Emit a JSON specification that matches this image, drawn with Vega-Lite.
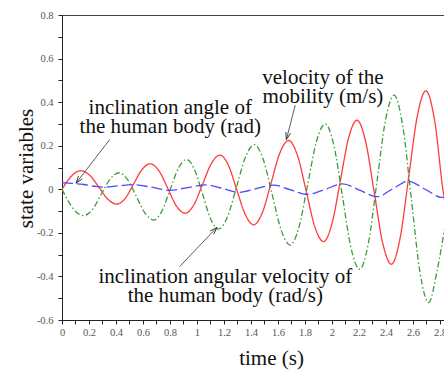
{
  "$schema": "https://vega.github.io/schema/vega-lite/v6.json",
  "width": 382,
  "height": 305,
  "autosize": {"type": "none"},
  "padding": {"left": 62, "top": 15, "right": 0, "bottom": 50},
  "background": "white",
  "config": {
    "view": {"stroke": "#444", "strokeWidth": 1},
    "axis": {
      "grid": false,
      "domainColor": "#222",
      "tickColor": "#222",
      "tickSize": 4,
      "labelFont": "Liberation Serif",
      "labelFontSize": 10.5,
      "labelColor": "#555",
      "labelFlush": false,
      "labelOverlap": false,
      "labelBound": false,
      "titleFont": "Liberation Serif",
      "titleFontSize": 21,
      "titleFontWeight": "normal",
      "titleColor": "#111"
    }
  },
  "datasets": {
    "curves": [
      {"s": "velocity", "t": 0.000, "y": 0.000},
      {"s": "velocity", "t": 0.047, "y": 0.043},
      {"s": "velocity", "t": 0.093, "y": 0.074},
      {"s": "velocity", "t": 0.140, "y": 0.085},
      {"s": "velocity", "t": 0.207, "y": 0.063},
      {"s": "velocity", "t": 0.274, "y": 0.009},
      {"s": "velocity", "t": 0.340, "y": -0.046},
      {"s": "velocity", "t": 0.407, "y": -0.068},
      {"s": "velocity", "t": 0.469, "y": -0.041},
      {"s": "velocity", "t": 0.531, "y": 0.025},
      {"s": "velocity", "t": 0.592, "y": 0.090},
      {"s": "velocity", "t": 0.654, "y": 0.117},
      {"s": "velocity", "t": 0.719, "y": 0.084},
      {"s": "velocity", "t": 0.784, "y": 0.004},
      {"s": "velocity", "t": 0.848, "y": -0.077},
      {"s": "velocity", "t": 0.913, "y": -0.110},
      {"s": "velocity", "t": 0.977, "y": -0.071},
      {"s": "velocity", "t": 1.042, "y": 0.024},
      {"s": "velocity", "t": 1.106, "y": 0.118},
      {"s": "velocity", "t": 1.170, "y": 0.157},
      {"s": "velocity", "t": 1.233, "y": 0.110},
      {"s": "velocity", "t": 1.295, "y": -0.003},
      {"s": "velocity", "t": 1.358, "y": -0.116},
      {"s": "velocity", "t": 1.420, "y": -0.163},
      {"s": "velocity", "t": 1.485, "y": -0.106},
      {"s": "velocity", "t": 1.550, "y": 0.031},
      {"s": "velocity", "t": 1.614, "y": 0.167},
      {"s": "velocity", "t": 1.679, "y": 0.224},
      {"s": "velocity", "t": 1.744, "y": 0.156},
      {"s": "velocity", "t": 1.809, "y": -0.008},
      {"s": "velocity", "t": 1.873, "y": -0.172},
      {"s": "velocity", "t": 1.938, "y": -0.240},
      {"s": "velocity", "t": 2.000, "y": -0.158},
      {"s": "velocity", "t": 2.062, "y": 0.039},
      {"s": "velocity", "t": 2.123, "y": 0.235},
      {"s": "velocity", "t": 2.185, "y": 0.317},
      {"s": "velocity", "t": 2.249, "y": 0.220},
      {"s": "velocity", "t": 2.313, "y": -0.014},
      {"s": "velocity", "t": 2.376, "y": -0.247},
      {"s": "velocity", "t": 2.440, "y": -0.344},
      {"s": "velocity", "t": 2.504, "y": -0.227},
      {"s": "velocity", "t": 2.568, "y": 0.054},
      {"s": "velocity", "t": 2.632, "y": 0.335},
      {"s": "velocity", "t": 2.696, "y": 0.452},
      {"s": "velocity", "t": 2.761, "y": 0.314},
      {"s": "velocity", "t": 2.826, "y": -0.019},
      {"s": "velocity", "t": 2.837, "y": -0.060},

      {"s": "angvel", "t": 0.000, "y": 0.000},
      {"s": "angvel", "t": 0.053, "y": -0.061},
      {"s": "angvel", "t": 0.107, "y": -0.105},
      {"s": "angvel", "t": 0.160, "y": -0.121},
      {"s": "angvel", "t": 0.226, "y": -0.092},
      {"s": "angvel", "t": 0.291, "y": -0.023},
      {"s": "angvel", "t": 0.357, "y": 0.047},
      {"s": "angvel", "t": 0.422, "y": 0.076},
      {"s": "angvel", "t": 0.486, "y": 0.044},
      {"s": "angvel", "t": 0.551, "y": -0.033},
      {"s": "angvel", "t": 0.615, "y": -0.109},
      {"s": "angvel", "t": 0.679, "y": -0.141},
      {"s": "angvel", "t": 0.740, "y": -0.100},
      {"s": "angvel", "t": 0.801, "y": -0.002},
      {"s": "angvel", "t": 0.862, "y": 0.096},
      {"s": "angvel", "t": 0.923, "y": 0.137},
      {"s": "angvel", "t": 0.982, "y": 0.090},
      {"s": "angvel", "t": 1.042, "y": -0.023},
      {"s": "angvel", "t": 1.101, "y": -0.136},
      {"s": "angvel", "t": 1.160, "y": -0.183},
      {"s": "angvel", "t": 1.226, "y": -0.126},
      {"s": "angvel", "t": 1.293, "y": 0.011},
      {"s": "angvel", "t": 1.359, "y": 0.148},
      {"s": "angvel", "t": 1.425, "y": 0.205},
      {"s": "angvel", "t": 1.491, "y": 0.137},
      {"s": "angvel", "t": 1.558, "y": -0.026},
      {"s": "angvel", "t": 1.624, "y": -0.188},
      {"s": "angvel", "t": 1.690, "y": -0.256},
      {"s": "angvel", "t": 1.755, "y": -0.175},
      {"s": "angvel", "t": 1.820, "y": 0.022},
      {"s": "angvel", "t": 1.885, "y": 0.219},
      {"s": "angvel", "t": 1.950, "y": 0.300},
      {"s": "angvel", "t": 2.014, "y": 0.202},
      {"s": "angvel", "t": 2.078, "y": -0.034},
      {"s": "angvel", "t": 2.141, "y": -0.269},
      {"s": "angvel", "t": 2.205, "y": -0.367},
      {"s": "angvel", "t": 2.269, "y": -0.250},
      {"s": "angvel", "t": 2.333, "y": 0.033},
      {"s": "angvel", "t": 2.396, "y": 0.315},
      {"s": "angvel", "t": 2.460, "y": 0.432},
      {"s": "angvel", "t": 2.524, "y": 0.293},
      {"s": "angvel", "t": 2.588, "y": -0.044},
      {"s": "angvel", "t": 2.652, "y": -0.381},
      {"s": "angvel", "t": 2.716, "y": -0.520},
      {"s": "angvel", "t": 2.780, "y": -0.370},
      {"s": "angvel", "t": 2.837, "y": -0.170},

      {"s": "angle", "t": 0.000, "y": 0.031},
      {"s": "angle", "t": 0.080, "y": 0.027},
      {"s": "angle", "t": 0.160, "y": 0.022},
      {"s": "angle", "t": 0.240, "y": 0.014},
      {"s": "angle", "t": 0.310, "y": 0.010},
      {"s": "angle", "t": 0.420, "y": 0.016},
      {"s": "angle", "t": 0.530, "y": 0.021},
      {"s": "angle", "t": 0.660, "y": 0.010},
      {"s": "angle", "t": 0.800, "y": -0.005},
      {"s": "angle", "t": 0.930, "y": 0.008},
      {"s": "angle", "t": 1.070, "y": 0.020},
      {"s": "angle", "t": 1.190, "y": 0.004},
      {"s": "angle", "t": 1.310, "y": -0.014},
      {"s": "angle", "t": 1.440, "y": 0.003},
      {"s": "angle", "t": 1.567, "y": 0.019},
      {"s": "angle", "t": 1.690, "y": -0.002},
      {"s": "angle", "t": 1.815, "y": -0.024},
      {"s": "angle", "t": 1.950, "y": 0.000},
      {"s": "angle", "t": 2.080, "y": 0.025},
      {"s": "angle", "t": 2.205, "y": -0.004},
      {"s": "angle", "t": 2.333, "y": -0.034},
      {"s": "angle", "t": 2.450, "y": 0.002},
      {"s": "angle", "t": 2.567, "y": 0.037},
      {"s": "angle", "t": 2.690, "y": 0.000},
      {"s": "angle", "t": 2.815, "y": -0.037},
      {"s": "angle", "t": 2.837, "y": -0.037}
    ],
    "arrows": [
      {"a": "angle", "t": 0.353, "y": 0.228, "t2": 0.104, "y2": 0.028},
      {"a": "velocity", "t": 1.728, "y": 0.386, "t2": 1.662, "y2": 0.228},
      {"a": "angvel", "t": 0.871, "y": -0.355, "t2": 1.148, "y2": -0.175}
    ],
    "labels": [
      {"t": 0.802, "y": 0.344, "label": "inclination angle of\nthe human body (rad)"},
      {"t": 1.933, "y": 0.4825, "label": "velocity of the\nmobility (m/s)"},
      {"t": 1.210, "y": -0.4286, "label": "inclination angular velocity of\nthe human body (rad/s)"}
    ]
  },
  "layer": [
    {
      "data": {"name": "curves"},
      "mark": {"type": "line", "interpolate": "monotone", "strokeWidth": 1.3, "clip": true},
      "encoding": {
        "x": {
          "field": "t", "type": "quantitative",
          "scale": {"domain": [0, 2.83], "nice": false, "zero": false},
          "axis": {
            "title": "time (s)",
            "tickCount": 100,
            "values": [0, 0.1, 0.2, 0.3, 0.4, 0.5, 0.6, 0.7, 0.8, 0.9, 1, 1.1, 1.2, 1.3, 1.4, 1.5, 1.6, 1.7, 1.8, 1.9, 2, 2.1, 2.2, 2.3, 2.4, 2.5, 2.6, 2.7, 2.8],
            "labelExpr": "abs(round(datum.value*10))%2==0 ? ''+datum.value : ''",
            "labelOverlap": false,
            "labelPadding": 3,
            "titleX": 209,
            "titleY": 44,
            "titleAlign": "center",
            "titleBaseline": "alphabetic"
          }
        },
        "y": {
          "field": "y", "type": "quantitative",
          "scale": {"domain": [-0.6, 0.8], "nice": false, "zero": false},
          "axis": {
            "title": "state variables",
            "tickCount": 100,
            "values": [-0.6, -0.5, -0.4, -0.3, -0.2, -0.1, 0, 0.1, 0.2, 0.3, 0.4, 0.5, 0.6, 0.7, 0.8],
            "labelExpr": "abs(round(datum.value*10))%2==0 ? ''+datum.value : ''",
            "labelOverlap": false,
            "labelPadding": 5,
            "titleX": -30,
            "titleY": 153,
            "titleAngle": -90,
            "titleAlign": "center",
            "titleBaseline": "alphabetic"
          }
        },
        "color": {
          "field": "s", "type": "nominal",
          "scale": {"domain": ["velocity", "angvel", "angle"], "range": ["#ff3b3b", "#3c9c3c", "#4a4aff"]},
          "legend": null
        },
        "strokeDash": {
          "field": "s", "type": "nominal",
          "scale": {"domain": ["velocity", "angvel", "angle"], "range": [[1, 0], [6, 2.5, 1.5, 2.5], [11, 4]]},
          "legend": null
        }
      }
    },
    {
      "data": {"name": "arrows"},
      "mark": {"type": "rule", "color": "#333", "strokeWidth": 0.8},
      "encoding": {
        "x": {"field": "t", "type": "quantitative"},
        "y": {"field": "y", "type": "quantitative"},
        "x2": {"field": "t2"},
        "y2": {"field": "y2"}
      }
    },
    {
      "data": {"name": "arrows"},
      "transform": [{"filter": "datum.a == 'angle'"}],
      "mark": {"type": "point", "shape": "M-0.6,1.8L0,0L0.6,1.8", "filled": false, "size": 64, "angle": 217.7, "color": "#333", "strokeWidth": 0.9, "opacity": 1},
      "encoding": {
        "x": {"field": "t2", "type": "quantitative"},
        "y": {"field": "y2", "type": "quantitative"}
      }
    },
    {
      "data": {"name": "arrows"},
      "transform": [{"filter": "datum.a == 'velocity'"}],
      "mark": {"type": "point", "shape": "M-0.6,1.8L0,0L0.6,1.8", "filled": false, "size": 64, "angle": 194.7, "color": "#333", "strokeWidth": 0.9, "opacity": 1},
      "encoding": {
        "x": {"field": "t2", "type": "quantitative"},
        "y": {"field": "y2", "type": "quantitative"}
      }
    },
    {
      "data": {"name": "arrows"},
      "transform": [{"filter": "datum.a == 'angvel'"}],
      "mark": {"type": "point", "shape": "M-0.6,1.8L0,0L0.6,1.8", "filled": false, "size": 64, "angle": 43.8, "color": "#333", "strokeWidth": 0.9, "opacity": 1},
      "encoding": {
        "x": {"field": "t2", "type": "quantitative"},
        "y": {"field": "y2", "type": "quantitative"}
      }
    },
    {
      "data": {"name": "labels"},
      "mark": {"type": "text", "font": "Liberation Serif", "fontSize": 21, "lineHeight": 19, "lineBreak": "\n", "align": "center", "baseline": "alphabetic", "color": "#111"},
      "encoding": {
        "x": {"field": "t", "type": "quantitative"},
        "y": {"field": "y", "type": "quantitative"},
        "text": {"field": "label", "type": "nominal"}
      }
    }
  ]
}
